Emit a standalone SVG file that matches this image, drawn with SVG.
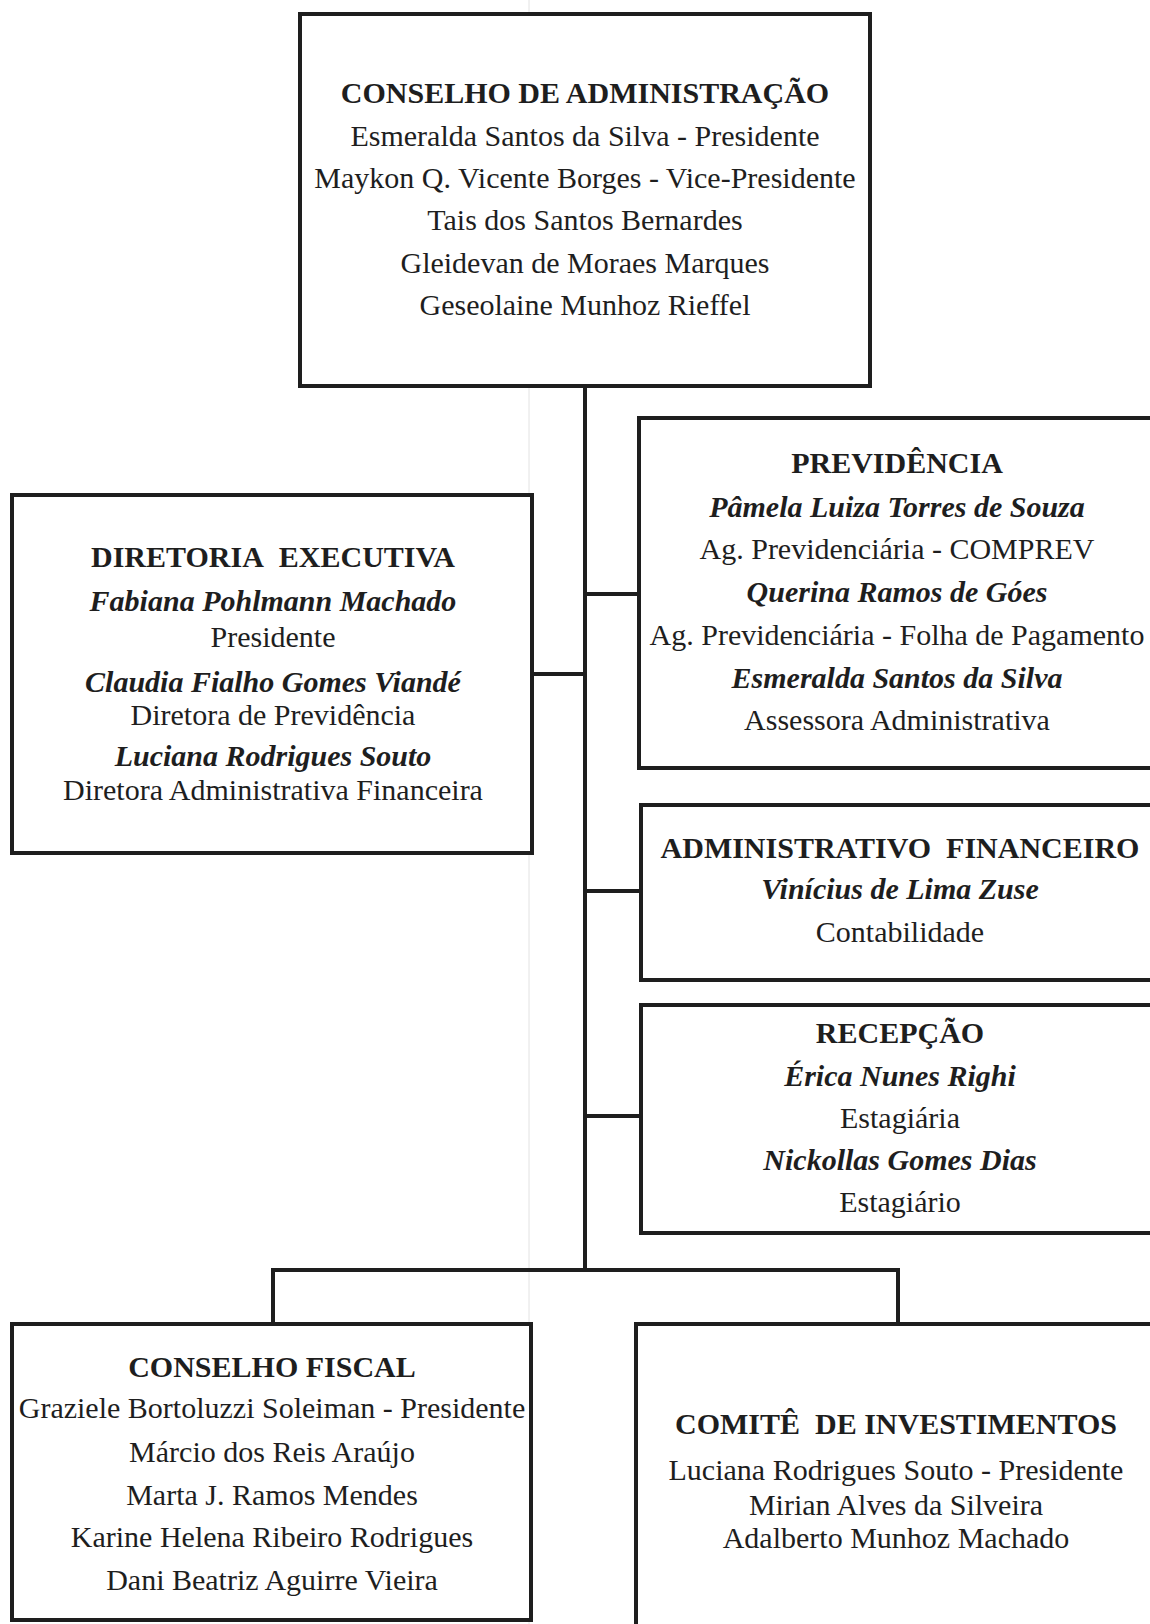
<svg xmlns="http://www.w3.org/2000/svg" width="1150" height="1624" viewBox="0 0 1150 1624">
<style>
  .box { fill: #ffffff; stroke: #1e1e1e; stroke-width: 4; }
  .conn { fill: none; stroke: #1e1e1e; stroke-width: 4; }
  text { font-family: "Liberation Serif", "Times New Roman", serif; font-size: 30px; fill: #1e1e1e; text-anchor: middle; }
  .t { font-weight: bold; }
  .n { font-weight: bold; font-style: italic; }
</style>
<rect x="0" y="0" width="1150" height="1624" fill="#ffffff"/>
<line x1="529" y1="0" x2="529" y2="1624" stroke="#e2e2e2" stroke-width="1"/>

<g id="connectors">
  <line class="conn" x1="585" y1="386" x2="585" y2="1270"/>
  <line class="conn" x1="532" y1="674" x2="585" y2="674"/>
  <line class="conn" x1="585" y1="594" x2="639" y2="594"/>
  <line class="conn" x1="585" y1="891" x2="641" y2="891"/>
  <line class="conn" x1="585" y1="1116" x2="641" y2="1116"/>
  <polyline class="conn" points="273,1324 273,1270 898,1270 898,1324"/>
</g>

<g id="conselho-administracao">
  <rect class="box" x="300" y="14" width="570" height="372"/>
  <text class="t" x="585" y="103">CONSELHO DE ADMINISTRAÇÃO</text>
  <text x="585" y="146">Esmeralda Santos da Silva - Presidente</text>
  <text x="585" y="188">Maykon Q. Vicente Borges - Vice-Presidente</text>
  <text x="585" y="230">Tais dos Santos Bernardes</text>
  <text x="585" y="273">Gleidevan de Moraes Marques</text>
  <text x="585" y="315">Geseolaine Munhoz Rieffel</text>
</g>

<g id="diretoria-executiva">
  <rect class="box" x="12" y="495" width="520" height="358"/>
  <text class="t" x="273" y="567">DIRETORIA&#160; EXECUTIVA</text>
  <text class="n" x="273" y="611">Fabiana Pohlmann Machado</text>
  <text x="273" y="647">Presidente</text>
  <text class="n" x="273" y="692">Claudia Fialho Gomes Viandé</text>
  <text x="273" y="725">Diretora de Previdência</text>
  <text class="n" x="273" y="766">Luciana Rodrigues Souto</text>
  <text x="273" y="800">Diretora Administrativa Financeira</text>
</g>

<g id="previdencia">
  <rect class="box" x="639" y="418" width="530" height="350"/>
  <text class="t" x="897" y="473">PREVIDÊNCIA</text>
  <text class="n" x="897" y="517">Pâmela Luiza Torres de Souza</text>
  <text x="897" y="559">Ag. Previdenciária - COMPREV</text>
  <text class="n" x="897" y="602">Querina Ramos de Góes</text>
  <text x="897" y="645">Ag. Previdenciária - Folha de Pagamento</text>
  <text class="n" x="897" y="688">Esmeralda Santos da Silva</text>
  <text x="897" y="730">Assessora Administrativa</text>
</g>

<g id="administrativo-financeiro">
  <rect class="box" x="641" y="805" width="530" height="175"/>
  <text class="t" x="900" y="858">ADMINISTRATIVO&#160; FINANCEIRO</text>
  <text class="n" x="900" y="899">Vinícius de Lima Zuse</text>
  <text x="900" y="942">Contabilidade</text>
</g>

<g id="recepcao">
  <rect class="box" x="641" y="1005" width="530" height="228"/>
  <text class="t" x="900" y="1043">RECEPÇÃO</text>
  <text class="n" x="900" y="1086">Érica Nunes Righi</text>
  <text x="900" y="1128">Estagiária</text>
  <text class="n" x="900" y="1170">Nickollas Gomes Dias</text>
  <text x="900" y="1212">Estagiário</text>
</g>

<g id="conselho-fiscal">
  <rect class="box" x="12" y="1324" width="519" height="296"/>
  <text class="t" x="272" y="1377">CONSELHO FISCAL</text>
  <text x="272" y="1418">Graziele Bortoluzzi Soleiman - Presidente</text>
  <text x="272" y="1462">Márcio dos Reis Araújo</text>
  <text x="272" y="1505">Marta J. Ramos Mendes</text>
  <text x="272" y="1547">Karine Helena Ribeiro Rodrigues</text>
  <text x="272" y="1590">Dani Beatriz Aguirre Vieira</text>
</g>

<g id="comite-investimentos">
  <rect class="box" x="636" y="1324" width="530" height="330"/>
  <text class="t" x="896" y="1434">COMITÊ&#160; DE INVESTIMENTOS</text>
  <text x="896" y="1480">Luciana Rodrigues Souto - Presidente</text>
  <text x="896" y="1515">Mirian Alves da Silveira</text>
  <text x="896" y="1548">Adalberto Munhoz Machado</text>
</g>
</svg>
